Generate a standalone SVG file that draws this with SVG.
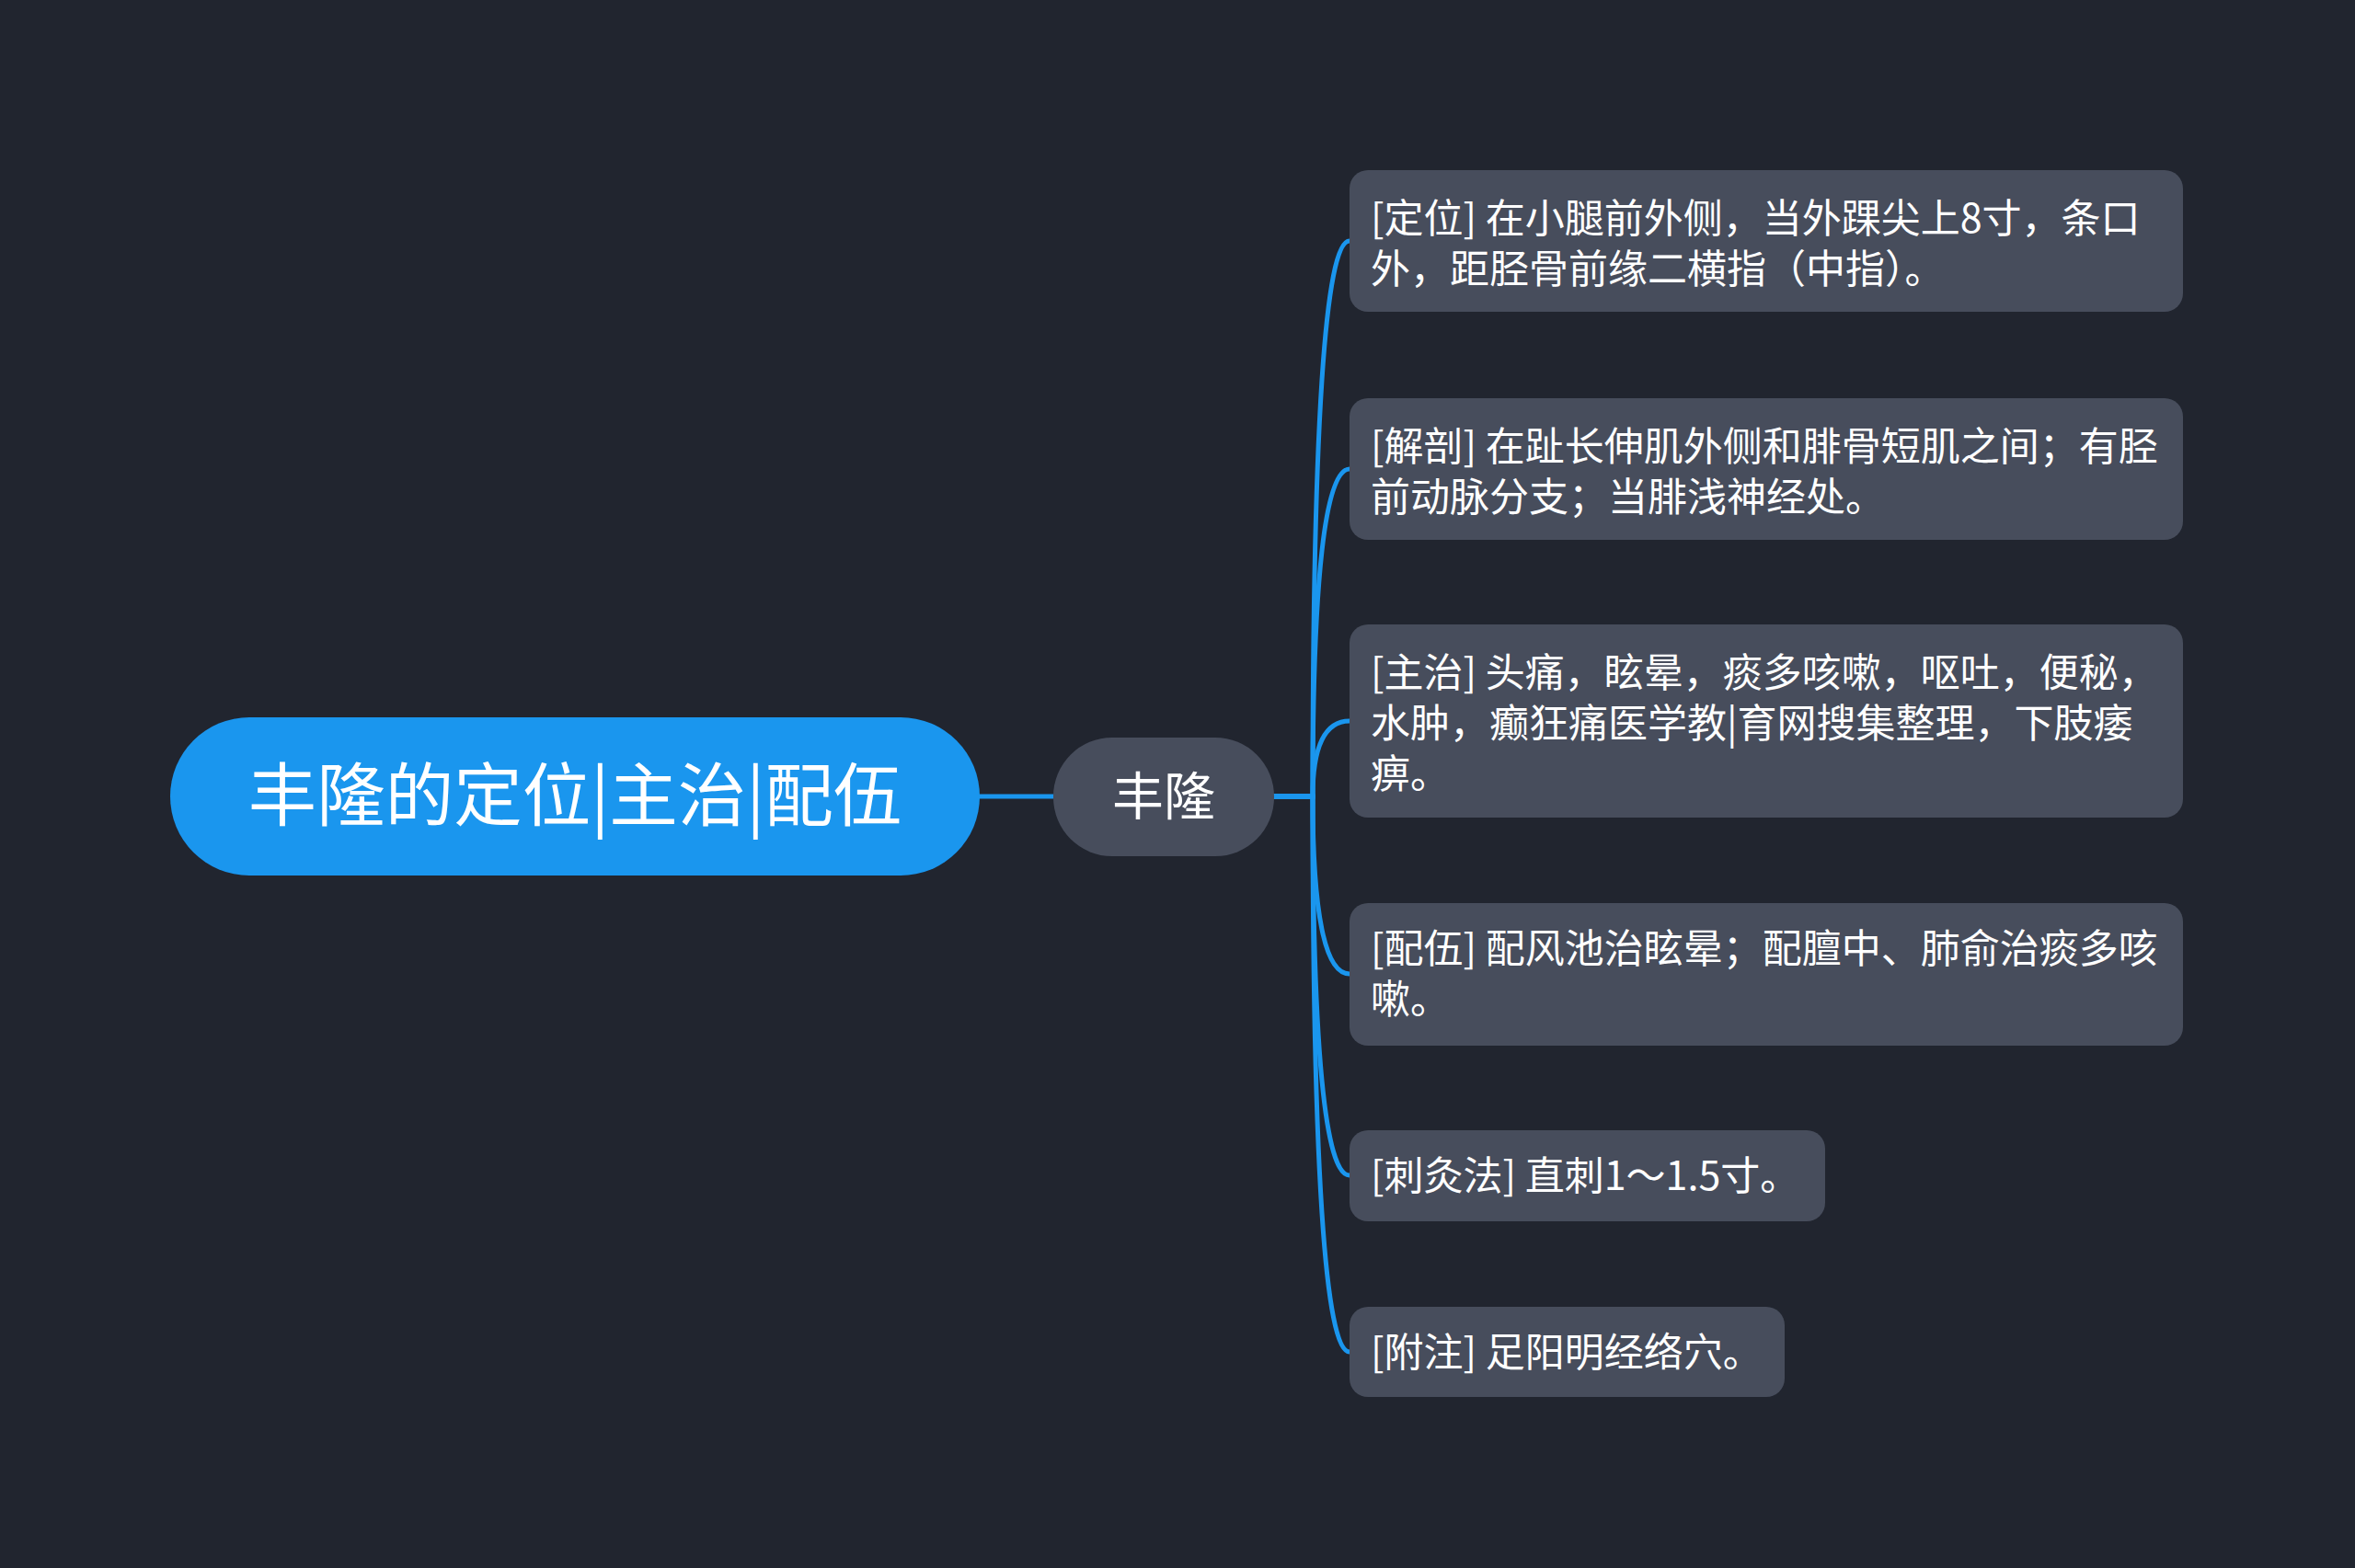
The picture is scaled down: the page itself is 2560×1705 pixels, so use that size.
<svg xmlns="http://www.w3.org/2000/svg" width="2560" height="1705" viewBox="0 0 2560 1705">
  <style>
    .bg { fill: #21252f; }
    .conn { fill: none; stroke: #1a96ee; stroke-width: 5; stroke-linecap: round; }
    .root-box { fill: #1a96ee; }
    .node-box { fill: #474d5c; }
    .root-text { font-family: "Noto Sans CJK SC", "Noto Sans", sans-serif; font-size: 74.5px; fill: #ffffff; text-anchor: middle; }
    .mid-text { font-family: "Noto Sans CJK SC", "Noto Sans", sans-serif; font-size: 56px; fill: #ffffff; text-anchor: middle; }
    .leaf-text { font-family: "Noto Sans CJK SC", "Noto Sans", sans-serif; font-size: 43px; fill: #ffffff; }
  </style>
  <rect class="bg" x="0" y="0" width="2560" height="1705"/>

  <g id="connectors">
    <path class="conn" d="M1065,866 L1145,866"/>
    <path class="conn" d="M1385,866 L1427,866 Q1427,262 1467,262"/>
    <path class="conn" d="M1385,866 L1427,866 Q1427,510 1467,510"/>
    <path class="conn" d="M1385,866 L1427,866 Q1427,784 1467,784"/>
    <path class="conn" d="M1385,866 L1427,866 Q1427,1059 1467,1059"/>
    <path class="conn" d="M1385,866 L1427,866 Q1427,1278 1467,1278"/>
    <path class="conn" d="M1385,866 L1427,866 Q1427,1470 1467,1470"/>
  </g>

  <g id="root">
    <rect class="root-box" x="185" y="780" width="880" height="172" rx="86" ry="86"/>
    <text class="root-text" x="625" y="892">丰隆的定位|主治|配伍</text>
  </g>

  <g id="main">
    <rect class="node-box" x="1145" y="802" width="240" height="129" rx="64" ry="64"/>
    <text class="mid-text" x="1265" y="886">丰隆</text>
  </g>

  <g id="leaf-dingwei">
    <rect class="node-box" x="1467" y="185" width="906" height="154" rx="20" ry="20"/>
    <text class="leaf-text" x="1490" y="253">[定位] 在小腿前外侧，当外踝尖上8寸，条口<tspan x="1490" y="308">外，距胫骨前缘二横指（中指）。</tspan></text>
  </g>

  <g id="leaf-jiepou">
    <rect class="node-box" x="1467" y="433" width="906" height="154" rx="20" ry="20"/>
    <text class="leaf-text" x="1490" y="501">[解剖] 在趾长伸肌外侧和腓骨短肌之间；有胫<tspan x="1490" y="556">前动脉分支；当腓浅神经处。</tspan></text>
  </g>

  <g id="leaf-zhuzhi">
    <rect class="node-box" x="1467" y="679" width="906" height="210" rx="20" ry="20"/>
    <text class="leaf-text" x="1490" y="747">[主治] 头痛，眩晕，痰多咳嗽，呕吐，便秘，<tspan x="1490" y="802">水肿，癫狂痛医学教|育网搜集整理，下肢痿</tspan><tspan x="1490" y="857">痹。</tspan></text>
  </g>

  <g id="leaf-peiwu">
    <rect class="node-box" x="1467" y="982" width="906" height="155" rx="20" ry="20"/>
    <text class="leaf-text" x="1490" y="1047">[配伍] 配风池治眩晕；配膻中、肺俞治痰多咳<tspan x="1490" y="1102">嗽。</tspan></text>
  </g>

  <g id="leaf-cijiufa">
    <rect class="node-box" x="1467" y="1229" width="517" height="99" rx="20" ry="20"/>
    <text class="leaf-text" x="1490" y="1294">[刺灸法] 直刺1～1.5寸。</text>
  </g>

  <g id="leaf-fuzhu">
    <rect class="node-box" x="1467" y="1421" width="473" height="98" rx="20" ry="20"/>
    <text class="leaf-text" x="1490" y="1486">[附注] 足阳明经络穴。</text>
  </g>
</svg>
